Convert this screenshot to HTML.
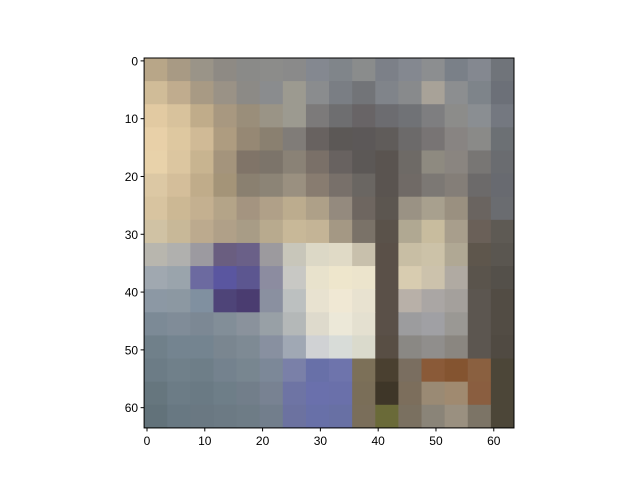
<!DOCTYPE html>
<html><head><meta charset="utf-8"><style>
body{margin:0;background:#fff;width:640px;height:480px;overflow:hidden}
text{font-family:"Liberation Sans","DejaVu Sans",sans-serif;font-size:12px;fill:#000}
</style></head><body>
<svg id="chart" width="640" height="480" xmlns="http://www.w3.org/2000/svg"></svg>
<script>
const rows = [
"b8a688 a89a84 9a9488 8e8a84 8a8a88 8c8c8a 8a8a8a 848890 80858a 8a8c8c 7c8088 848890 8c8e90 7a8088 848890 70747a",
"d0bc98 c0ac8e a89a84 9a9286 8c8a86 8a8c8e 9c9a90 8a8c8e 7a7e84 727478 80848a 888a8c a8a298 8c8e90 7e848a 6c7078",
"e2caa2 d8c29c c0ac8a a89880 9a8e7a 9a9486 9c9a90 7c7a7a 6e6e70 686466 6c6c70 707276 7e7e80 8c8c8a 8a8e92 747880",
"e8d0a8 dec8a0 d0ba96 ae9c80 968874 8a8070 807c78 686260 5c5856 5c5858 605c5a 6c6a6a 787474 888482 8a8a88 6c7074",
"e8d2aa dcc6a0 c8b490 a4947c 807468 7c746a 8a8276 7a7068 686260 5c5856 5a5450 6e6a66 8e8a80 8a8580 787674 6a6c70",
"dcc8a4 d4be9a c0ac8a a49478 8a8070 8c8476 9a9080 887c70 78706a 6a6662 5a5450 706a66 7c7874 847e78 6c6a6a 686a70",
"d8c4a0 ccb894 c4b090 b4a488 a49480 b0a088 bcac8e aea088 948a7e 6e6660 5c5650 9a9284 a8a08e 9a9080 6a6460 6a6c70",
"d0c2a4 c8b898 bcaa8e b0a088 a89c86 b8aa8e c8b898 c4b496 a49884 7a7268 5a524a b0a892 c8bc9e a89e8c 6a6058 5e5a54",
"b8b6ae b0b0ae 9c9aa0 6a5e80 6a6088 9c9a9e c8c6ba dcd8c6 e0dac6 c8c0ac 5a5048 c8bea4 ccc2a8 b0a894 5e564c 5a5650",
"a0a8b0 9aa4ac 6c6aa0 5a56a0 5c5690 8c8ca0 c8c8c4 e8e2cc eee6cc ece4cc 5a5048 d8ccb0 ccc2ac b0aaa2 5a544c 54504a",
"8c98a4 8c98a2 8090a0 4e4478 4a3c70 8a90a0 bcc0c0 e8e2d0 f0e8d4 e8e2d0 5a5048 b8b0a8 aaa6a4 a4a09c 5c5650 524c44",
"7c8a96 808c98 7c8894 828e98 8a929c 98a0a6 b4b8b8 dedacc ece8d8 e4e0d0 5a5048 9c9c9e a0a0a4 9a9894 5c5650 524c44",
"70808a 748490 748490 7a8690 7e8a94 8890a0 a0a8b4 d0d2d4 d8dcd8 dadacc 584e44 8a8884 908e8c 8a8680 5c5650 504a42",
"6c7c86 70808a 6e7e88 74828e 788690 7c8898 7a80a8 6870a8 6e74ac 7c7058 4a4030 7a6e60 8a5a38 845430 8a6040 4c4638",
"66767e 6c7c86 6a7a84 6e7e88 727e8a 788292 6e74a4 6a70ac 6a70aa 7a6e58 3e3628 7c6e5c 9a8a74 a08a70 8a5e40 4c4638",
"62727a 687882 6a7882 6c7a84 6e7c86 727e8c 6c72a0 6870a8 6870a4 7a6e5a 6a6a38 7a7060 8a8478 9a9080 7c7466 4c4638"
];
const xTicks = [0,10,20,30,40,50,60];
const yTicks = [0,10,20,30,40,50,60];
const imgSize = 64;
const block = 4;

const NS="http://www.w3.org/2000/svg";
const svg=document.getElementById('chart');
const L=144.1,T=58,S=369.9;
const sx=v=>L+(v+0.5)/imgSize*S;
const sy=v=>T+(v+0.5)/imgSize*S;
function mk(t,a){const e=document.createElementNS(NS,t);for(const k in a)e.setAttribute(k,a[k]);svg.appendChild(e);return e;}
const cw=S/imgSize*block;
rows.forEach((r,ri)=>{r.split(' ').forEach((c,ci)=>{
 const e=mk('rect',{x:L+ci*cw,y:T+ri*cw,width:cw+0.5,height:cw+0.5,fill:'#'+c});
 
 
});});
const fr=mk('rect',{x:L,y:T,width:S,height:S,fill:'none',stroke:'#000','stroke-width':1});


xTicks.forEach(v=>{const x=sx(v);
 const l=mk('line',{x1:x,x2:x,y1:T+S,y2:T+S+3.5,stroke:'#000'});
 
 
 const t=mk('text',{x:x,y:T+S+17,'text-anchor':'middle'});t.textContent=v;
 
 
});
yTicks.forEach(v=>{const y=sy(v);
 const l=mk('line',{x1:L-3.5,x2:L,y1:y,y2:y,stroke:'#000'});
 
 
 const t=mk('text',{x:L-6,y:y+4.5,'text-anchor':'end'});t.textContent=v;
 
 
});
</script>
</body></html>
